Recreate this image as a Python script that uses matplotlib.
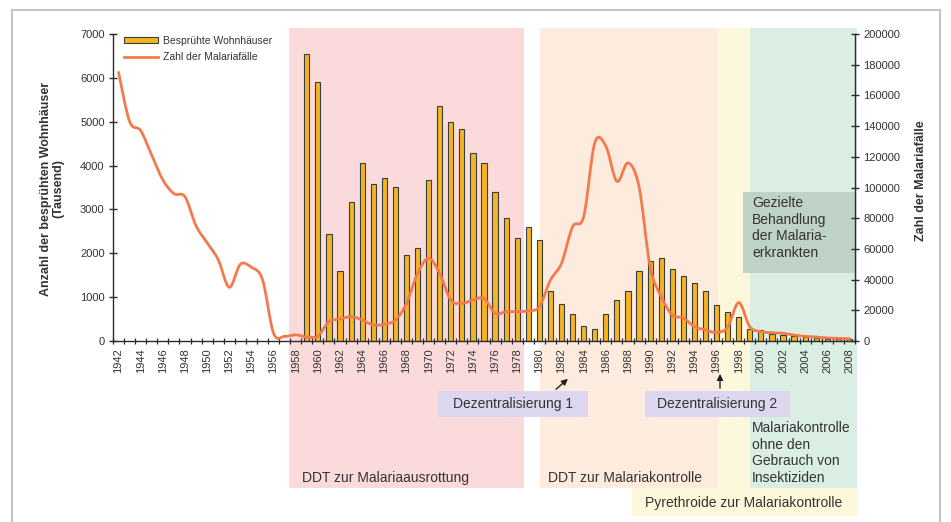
import numpy as np
import matplotlib
matplotlib.use("Agg")
import matplotlib.pyplot as plt
from matplotlib.patches import Rectangle, Patch, PathPatch
from matplotlib.path import Path
from matplotlib.lines import Line2D
from matplotlib.ticker import FixedLocator

plt.rcParams['font.family'] = ['Liberation Sans', 'DejaVu Sans']

# ---------------- data ----------------
years = list(range(1942, 2009))
malaria_cases = [
    175000, 143000, 137000, 121000, 105000, 96000, 94000, 75000, 64000, 53000,   # 1942-1951
    35000, 50000, 48000, 40000, 5000, 3000, 4000, 2600, 3300, 12600,             # 1952-1961
    14300, 15800, 13700, 10400, 10900, 13700, 24500, 44000, 54000, 44000,        # 1962-1971
    26700, 24500, 26700, 27800, 18000, 19100, 19100, 19700, 22300, 39700,        # 1972-1981
    50600, 74500, 81000, 129000, 127000, 104000, 116000, 100500, 48400, 28900,   # 1982-1991
    16900, 15000, 9300, 7200, 5500, 9000, 25000, 9300, 6100, 5400,               # 1992-2001
    5000, 3900, 3000, 2600, 2000, 1700, 1500                                     # 2002-2008
]
bar_years = list(range(1959, 2009))
sprayed_houses = [
    6550, 5900, 2430, 1600, 3170, 4060, 3580, 3710, 3510, 1960,   # 1959-1968
    2120, 3670, 5350, 4990, 4830, 4280, 4050, 3390, 2810, 2350,   # 1969-1978
    2600, 2310, 1140, 840, 615, 345, 275, 615, 935, 1140,         # 1979-1988
    1595, 1820, 1890, 1640, 1480, 1320, 1140, 820, 665, 550,      # 1989-1998
    270, 260, 165, 140, 115, 100, 75, 55, 50, 50                  # 1999-2008
]
x_tick_years = list(range(1942, 2009, 2))
left_ticks = list(range(0, 7001, 1000))
right_ticks = list(range(0, 200001, 20000))

# ---------------- figure ----------------
W, H = 951, 522
fig = plt.figure(figsize=(W / 100, H / 100), dpi=100)
fig.patch.set_facecolor('white')

def fx(px):
    return px / W

def fy(py):
    return 1 - py / H

TXT = '#333333'
AXC = '#2b2b2b'
BAR_C = '#f5b420'
BAR_E = '#34403f'
LINE_C = '#f47a4e'

# outer frame
fig.add_artist(Rectangle((fx(12), fy(540)), fx(940) - fx(12), fy(10) - fy(540),
                         transform=fig.transFigure, fill=False,
                         edgecolor='#c4c4c4', lw=1.5, zorder=-5))

# background period spans (figure pixel layout)
def frect(x0, y0, x1, y1, color, z=-2):
    fig.add_artist(Rectangle((fx(x0), fy(y1)), fx(x1) - fx(x0), fy(y0) - fy(y1),
                             transform=fig.transFigure, facecolor=color,
                             edgecolor='none', zorder=z))

frect(289, 28, 524, 488, '#fadada')          # DDT Ausrottung
frect(540, 28, 718, 488, '#fdebdd')          # DDT Kontrolle
frect(718, 28, 857, 488, '#fdf7dc')          # Pyrethroide strip
frect(632, 488, 858, 516, '#fdf7dc')         # Pyrethroide label box
frect(750, 28, 857, 488, '#dbeee3', z=-1.8)  # ohne Insektizide
frect(743, 192, 855, 273, '#bfd2c8', z=-1.5) # Gezielte Behandlung
frect(438, 391, 588, 417, '#dcd7ef', z=-1.5) # Dezentralisierung 1
frect(645, 391, 790, 417, '#dcd7ef', z=-1.5) # Dezentralisierung 2

# ---------------- axes ----------------
ax = fig.add_axes([fx(113), fy(341), fx(855) - fx(113), fy(34) - fy(341)])
ax.set_facecolor('none')
ax2 = ax.twinx()
ax2.patch.set_visible(False)

ax.set_xlim(1941.5, 2008.5)
ax.set_ylim(0, 7000)
ax2.set_ylim(0, 200000)

ax.bar(bar_years, sprayed_houses, width=0.47, color=BAR_C, edgecolor=BAR_E,
       linewidth=0.8, zorder=2)

# smoothed line (Catmull-Rom style Bezier through the yearly values)
xs = np.array(years, dtype=float)
ys = np.array(malaria_cases, dtype=float)
verts = [(xs[0], ys[0])]
codes = [Path.MOVETO]
n = len(xs)
for i in range(n - 1):
    p0 = np.array([xs[max(i - 1, 0)], ys[max(i - 1, 0)]])
    p1 = np.array([xs[i], ys[i]])
    p2 = np.array([xs[i + 1], ys[i + 1]])
    p3 = np.array([xs[min(i + 2, n - 1)], ys[min(i + 2, n - 1)]])
    c1 = p1 + (p2 - p0) / 6.0
    c2 = p2 - (p3 - p1) / 6.0
    verts += [tuple(c1), tuple(c2), tuple(p2)]
    codes += [Path.CURVE4] * 3
ax2.add_patch(PathPatch(Path(verts, codes), fill=False, edgecolor=LINE_C,
                        lw=2.0, capstyle='round', joinstyle='round', zorder=3))

# axes styling
for a in (ax, ax2):
    a.spines['top'].set_visible(False)
    for s in ('left', 'right', 'bottom'):
        a.spines[s].set_color(AXC)
        a.spines[s].set_linewidth(1.0)
ax.spines['right'].set_visible(False)
ax2.spines['left'].set_visible(False)
ax2.spines['bottom'].set_visible(False)

ax.set_yticks(left_ticks)
ax.set_yticklabels([str(v) for v in left_ticks])
ax2.set_yticks(right_ticks)
ax2.set_yticklabels([str(v) for v in right_ticks])
ax.tick_params(axis='y', direction='inout', length=6, width=1, color=AXC,
               labelsize=8, labelcolor=TXT, pad=3)
ax2.tick_params(axis='y', direction='inout', length=6, width=1, color=AXC,
                labelsize=8, labelcolor=TXT, pad=3)

ax.set_xticks(x_tick_years)
ax.set_xticklabels([str(y) for y in x_tick_years], rotation=90)
ax.xaxis.set_minor_locator(FixedLocator(np.arange(1941.5, 2009.0, 1.0)))
ax.tick_params(axis='x', which='major', length=0, labelsize=8,
               labelcolor=TXT, pad=5)
ax.tick_params(axis='x', which='minor', direction='inout', length=5,
               width=0.9, color=AXC)

# axis titles
fig.text(fx(52), fy(189), 'Anzahl der besprühten Wohnhäuser\n(Tausend)',
         rotation=90, ha='center', va='center', multialignment='center',
         fontsize=9, fontweight='bold', color=TXT, linespacing=1.1)
fig.text(fx(921), fy(181), 'Zahl der Malariafälle', rotation=90,
         ha='center', va='center', fontsize=9, fontweight='bold', color=TXT)

# legend
handles = [Patch(facecolor=BAR_C, edgecolor=BAR_E, linewidth=0.8),
           Line2D([0], [0], color=LINE_C, lw=2)]
leg = fig.legend(handles, ['Besprühte Wohnhäuser', 'Zahl der Malariafälle'],
                 loc='upper left', bbox_to_anchor=(fx(122), fy(34)),
                 frameon=False, fontsize=7.5, handlelength=3.3,
                 handleheight=0.5, handletextpad=0.4, labelspacing=0.6,
                 borderaxespad=0, borderpad=0.2)
for t in leg.get_texts():
    t.set_color(TXT)

# annotation texts
def ftext(px, py, s, **kw):
    fig.text(fx(px), fy(py), s, color=TXT, fontsize=10, **kw)

ftext(302, 478, 'DDT zur Malariaausrottung', va='center', ha='left')
ftext(548, 478, 'DDT zur Malariakontrolle', va='center', ha='left')
ftext(744, 503, 'Pyrethroide zur Malariakontrolle', va='center', ha='center')
ftext(513, 404, 'Dezentralisierung 1', va='center', ha='center')
ftext(717, 404, 'Dezentralisierung 2', va='center', ha='center')
ftext(752, 453, 'Malariakontrolle\nohne den\nGebrauch von\nInsektiziden',
      va='center', ha='left', linespacing=1.25)
ftext(752, 228, 'Gezielte\nBehandlung\nder Malaria-\nerkrankten',
      va='center', ha='left', linespacing=1.25)

# arrows
fig.add_artist(matplotlib.patches.FancyArrowPatch(
    (fx(554), fy(391)), (fx(570), fy(377)), transform=fig.transFigure,
    arrowstyle='-|>', mutation_scale=9, color='#222222', lw=1.0))
fig.add_artist(matplotlib.patches.FancyArrowPatch(
    (fx(720), fy(391)), (fx(720), fy(371)), transform=fig.transFigure,
    arrowstyle='-|>', mutation_scale=9, color='#222222', lw=1.0))

fig.savefig('out.png', dpi=100)
